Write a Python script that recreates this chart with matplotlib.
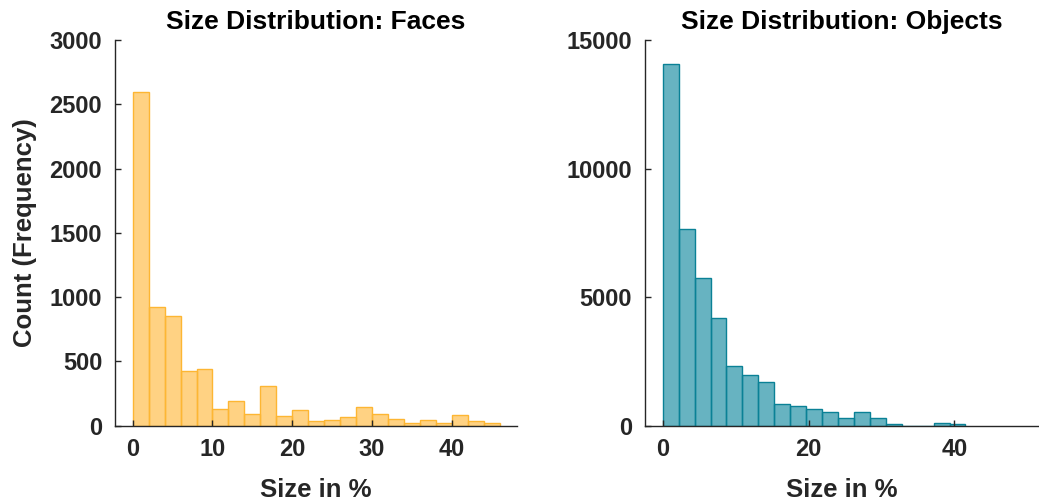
import numpy as np
import matplotlib
matplotlib.use("Agg")
import matplotlib.pyplot as plt

# bin edges and counts
face_width = 2.0
face_counts = [2593, 923, 856, 428, 443, 127, 192, 88, 311, 78, 119, 34,
               41, 70, 143, 88, 52, 23, 41, 23, 80, 34, 23]

obj_width = 2.185
obj_counts = [14075, 7660, 5741, 4199, 2307, 1983, 1711, 855, 765, 635, 531,
              298, 531, 298, 52, 0, 0, 104, 65]

plt.rcParams['font.family'] = ['Liberation Sans', 'DejaVu Sans']
plt.rcParams['font.weight'] = 'bold'

fig = plt.figure(figsize=(10.39, 5.03), dpi=100)
ax1 = fig.add_axes([0.1104, 0.1537, 0.3875, 0.7668])
ax2 = fig.add_axes([0.6205, 0.1537, 0.3795, 0.7668])

def hist_bars(ax, counts, width, face, edge):
    edges = np.arange(len(counts) + 1) * width
    ax.stairs(counts, edges, fill=True, facecolor=face, edgecolor='none')
    ax.bar(edges[:-1], counts, width=width, align='edge', color='none',
           edgecolor=edge, linewidth=1.0)

hist_bars(ax1, face_counts, face_width, '#FFD283', '#FDB633')
hist_bars(ax2, obj_counts, obj_width, '#67B3C1', '#0A8196')

ax1.set_xlim(-2.25, 48.2)
ax1.set_ylim(0, 3000)
ax1.set_xticks([0, 10, 20, 30, 40])
ax1.set_yticks(np.arange(0, 3001, 500))
ax1.set_title('Size Distribution: Faces', fontsize=19, fontweight='bold', pad=8)
ax1.set_ylabel('Count (Frequency)', fontsize=18.5, fontweight='bold', color='#262626', labelpad=9)

ax2.set_xlim(-2.47, 51.6)
ax2.set_ylim(0, 15000)
ax2.set_xticks([0, 20, 40])
ax2.set_yticks([0, 5000, 10000, 15000])
ax2.set_title('Size Distribution: Objects', fontsize=19, fontweight='bold', pad=8)

for ax in (ax1, ax2):
    ax.set_xlabel('Size in %', fontsize=18.5, fontweight='bold', color='#262626', labelpad=12)
    for s in ('top', 'right'):
        ax.spines[s].set_visible(False)
    for s in ('left', 'bottom'):
        ax.spines[s].set_color('#262626')
        ax.spines[s].set_linewidth(1.0)
    ax.tick_params(direction='in', length=4, width=1, colors='#262626',
                   labelsize=17, pad=9)
    for lab in ax.get_xticklabels() + ax.get_yticklabels():
        lab.set_fontweight('bold')

fig.savefig('out.png', dpi=100)
